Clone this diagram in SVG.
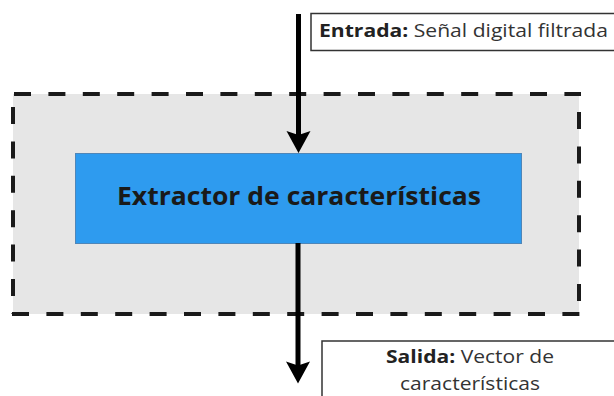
<svg xmlns="http://www.w3.org/2000/svg" width="614" height="396" viewBox="0 0 614 396">
<style>
.dash{stroke:#1a1a1a;stroke-width:4;stroke-dasharray:17 17.4;fill:none}
.lbl{fill:#fff;stroke:#333;stroke-width:1.5}
.t{font-family:"Open Sans","Liberation Sans",sans-serif;font-size:17.5px;fill:#333;text-anchor:middle}
.b{font-weight:bold;fill:#222}
.conn{stroke:#000;stroke-width:5;fill:none}
.head{fill:#000}
</style>
<rect width="614" height="396" fill="#fff"/>
<g id="container">
<rect x="13" y="94" width="566" height="220" fill="#e6e6e6"/>
<line class="dash" x1="14" y1="94" x2="581" y2="94"/>
<line class="dash" x1="12" y1="314" x2="581" y2="314"/>
<line class="dash" x1="13" y1="107" x2="13" y2="314"/>
<line class="dash" x1="579" y1="112" x2="579" y2="314"/>
</g>
<g id="extractor">
<rect x="75.5" y="153.5" width="446" height="90" fill="#2e9bef" stroke="#4f86b8" stroke-width="1"/>
<text class="t b" x="299" y="205" textLength="364" lengthAdjust="spacingAndGlyphs" style="font-size:25px;fill:#1a1a1a">Extractor de características</text>
</g>
<g id="connectors">
<line class="conn" x1="298.5" y1="14" x2="298.5" y2="136"/>
<path class="head" d="M286.5,131 L298.5,135 L310.5,131 L298.5,153 Z"/>
<line class="conn" x1="298" y1="243" x2="298" y2="366"/>
<path class="head" d="M286,361.5 L298,365.5 L310,361.5 L298,383.5 Z"/>
</g>
<g id="entrada">
<rect class="lbl" x="311" y="13.5" width="310" height="37"/>
<text class="t" x="463.5" y="37" textLength="289" lengthAdjust="spacingAndGlyphs"><tspan class="b">Entrada:</tspan> Señal digital filtrada</text>
</g>
<g id="salida">
<rect class="lbl" x="322" y="341" width="300" height="70"/>
<text class="t" x="470" y="363" textLength="168" lengthAdjust="spacingAndGlyphs"><tspan class="b">Salida:</tspan> Vector de</text>
<text class="t" x="470" y="390" textLength="140" lengthAdjust="spacingAndGlyphs">características</text>
</g>
</svg>
